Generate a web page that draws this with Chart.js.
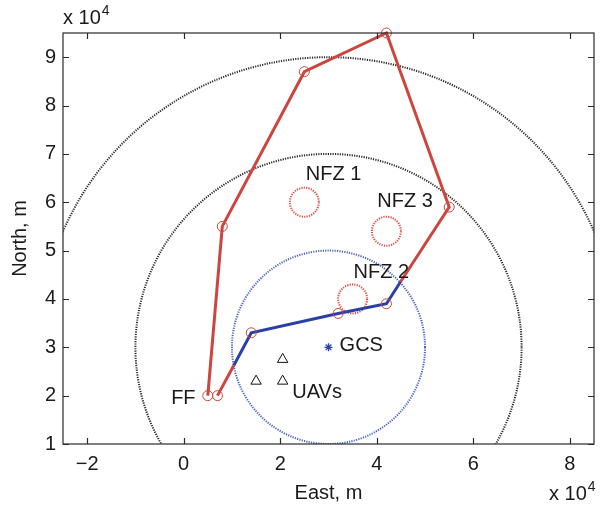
<!DOCTYPE html>
<html>
<head>
<meta charset="utf-8">
<script src="https://cdn.jsdelivr.net/npm/chart.js@4/dist/chart.umd.min.js"></script>
<style>
  html, body { margin: 0; padding: 0; background: #fff; }
  #wrap { width: 601px; height: 508px; }
</style>
</head>
<body>
<div id="wrap"><canvas id="routeChart" width="601" height="508"></canvas></div>
<script>
// Flight route (x 10^4 m), waypoints and the two points where it crosses the comm range
const routeX = [0.5, 0.8, 2.5, 4.2, 5.5, 4.49, 4.2, 3.2, 1.4, 1.04, 0.7];
const routeY = [2.0, 5.5, 8.7, 9.5, 5.9, 4.35, 3.9, 3.7, 3.3, 2.63, 2.0];
const routeMarked = [true, true, true, true, true, false, true, true, true, false, true];
// per segment: inside ("in") or outside ("out") the GCS comm range
const routeLink = ["out", "out", "out", "out", "out", "in", "in", "in", "in", "out"];

const gcsX = [3];
const gcsY = [3];
const commRadius = 2;
const rangeRadii = [4, 6];

const nfzX = [2.5, 3.5, 4.2];
const nfzY = [6.0, 4.0, 5.4];
const nfzRadius = 0.3;

const uavX = [1.5, 2.05, 2.05];
const uavY = [2.3, 2.75, 2.3];

const labelText = ["NFZ 1", "NFZ 2", "NFZ 3", "GCS", "UAVs", "FF"];
const labelX = [2.53, 3.52, 4.01, 3.23, 2.25, -0.26];
const labelY = [6.57, 4.54, 6.02, 3.03, 2.07, 1.94];

const xTicks = [-2, 0, 2, 4, 6, 8];
const yTicks = [1, 2, 3, 4, 5, 6, 7, 8, 9];

const RED = "#cc453e";
const BLUE = "#2b3fa6";
const FONT = "'Liberation Sans', Arial, Helvetica, sans-serif";
const TEXT = "#1a1a1a";

const pts = (xs, ys) => xs.map((x, i) => ({ x, y: ys[i] }));

// dotted circles (range rings, comm range, no-fly zones)
const circles = {
  id: "circles",
  beforeDatasetsDraw(chart) {
    const { ctx, chartArea: a, scales: { x, y } } = chart;
    const ring = (cx, cy, r, color, width, dash) => {
      const px = x.getPixelForValue(cx);
      const py = y.getPixelForValue(cy);
      const rx = Math.abs(x.getPixelForValue(cx + r) - px);
      const ry = Math.abs(y.getPixelForValue(cy + r) - py);
      ctx.beginPath();
      ctx.strokeStyle = color;
      ctx.lineWidth = width;
      ctx.setLineDash(dash);
      ctx.ellipse(px, py, rx, ry, 0, 0, Math.PI * 2);
      ctx.stroke();
    };
    ctx.save();
    ctx.beginPath();
    ctx.rect(a.left, a.top, a.width, a.height);
    ctx.clip();
    rangeRadii.forEach(r => ring(gcsX[0], gcsY[0], r, "#2a2a2a", 2, [1.2, 1.2]));
    ring(gcsX[0], gcsY[0], commRadius, "#4862c8", 2, [1.2, 1.2]);
    nfzX.forEach((cx, i) => ring(cx, nfzY[i], nfzRadius, "#dd4a44", 2, [1.2, 1.2]));
    ctx.restore();
  }
};

// box, inward ticks, annotations, exponent labels
const frame = {
  id: "frame",
  afterDatasetsDraw(chart) {
    const { ctx, chartArea: a, scales: { x, y } } = chart;
    ctx.save();
    ctx.strokeStyle = "#2a2a2a";
    ctx.lineWidth = 1.2;
    ctx.setLineDash([]);
    ctx.strokeRect(a.left, a.top, a.width, a.height);
    ctx.beginPath();
    x.ticks.forEach(t => {
      const px = Math.round(x.getPixelForValue(t.value)) + 0.5;
      ctx.moveTo(px, a.bottom); ctx.lineTo(px, a.bottom - 6);
      ctx.moveTo(px, a.top); ctx.lineTo(px, a.top + 6);
    });
    y.ticks.forEach(t => {
      const py = Math.round(y.getPixelForValue(t.value)) + 0.5;
      ctx.moveTo(a.left, py); ctx.lineTo(a.left + 6, py);
      ctx.moveTo(a.right, py); ctx.lineTo(a.right - 6, py);
    });
    ctx.stroke();

    ctx.fillStyle = TEXT;
    ctx.font = "20px " + FONT;
    ctx.textAlign = "left";
    ctx.textBaseline = "middle";
    labelText.forEach((t, i) => {
      ctx.fillText(t, x.getPixelForValue(labelX[i]), y.getPixelForValue(labelY[i]));
    });

    const expo = (left, base) => {
      ctx.textBaseline = "alphabetic";
      ctx.font = "20px " + FONT;
      ctx.fillText("x 10", left, base);
      const w = ctx.measureText("x 10").width;
      ctx.font = "14px " + FONT;
      ctx.fillText("4", left + w + 1, base - 9);
    };
    expo(a.left, 24);
    expo(549, 500);
    ctx.restore();
  }
};

new Chart(document.getElementById("routeChart"), {
  type: "scatter",
  data: {
    datasets: [
      {
        label: "Route",
        data: pts(routeX, routeY),
        showLine: true,
        borderWidth: 3,
        borderColor: RED,
        segment: {
          borderColor: c => routeLink[c.p0DataIndex] === "in" ? BLUE : RED
        },
        pointRadius: c => routeMarked[c.dataIndex] ? 5 : 0,
        pointBorderColor: RED,
        pointBackgroundColor: "rgba(0,0,0,0)",
        pointBorderWidth: 1,
        clip: false,
        order: 1
      },
      {
        label: "UAVs",
        data: pts(uavX, uavY),
        pointStyle: "triangle",
        pointRadius: 6,
        pointBorderColor: "#111",
        pointBackgroundColor: "rgba(0,0,0,0)",
        pointBorderWidth: 1,
        order: 0
      },
      {
        label: "GCS",
        data: pts(gcsX, gcsY),
        pointStyle: "star",
        pointRadius: 4,
        pointBorderColor: BLUE,
        pointBorderWidth: 1.3,
        order: 0
      }
    ]
  },
  options: {
    responsive: false,
    devicePixelRatio: 1,
    animation: false,
    events: [],
    layout: { padding: { left: 0, right: 5, top: 33, bottom: 0 } },
    plugins: { legend: { display: false }, tooltip: { enabled: false } },
    scales: {
      x: {
        type: "linear",
        min: -2.5,
        max: 8.5,
        afterFit: s => { s.height = 64; },
        afterBuildTicks: s => { s.ticks = xTicks.map(v => ({ value: v })); },
        grid: { display: false, drawTicks: false },
        border: { display: false },
        ticks: {
          padding: 8,
          color: TEXT,
          font: { family: FONT, size: 20 },
          callback: v => v < 0 ? "\u2212" + Math.abs(v) : String(v)
        },
        title: {
          display: true,
          text: "East, m",
          color: TEXT,
          font: { family: FONT, size: 20 },
          padding: { top: 0, bottom: 3 }
        }
      },
      y: {
        type: "linear",
        min: 1,
        max: 9.5,
        afterFit: s => { s.width = 63; },
        afterBuildTicks: s => { s.ticks = yTicks.map(v => ({ value: v })); },
        grid: { display: false, drawTicks: false },
        border: { display: false },
        ticks: {
          padding: 7,
          color: TEXT,
          font: { family: FONT, size: 20 }
        },
        title: {
          display: true,
          text: "North, m",
          color: TEXT,
          font: { family: FONT, size: 20 },
          padding: { top: 8, bottom: 0 }
        }
      }
    }
  },
  plugins: [circles, frame]
});
</script>
</body>
</html>
